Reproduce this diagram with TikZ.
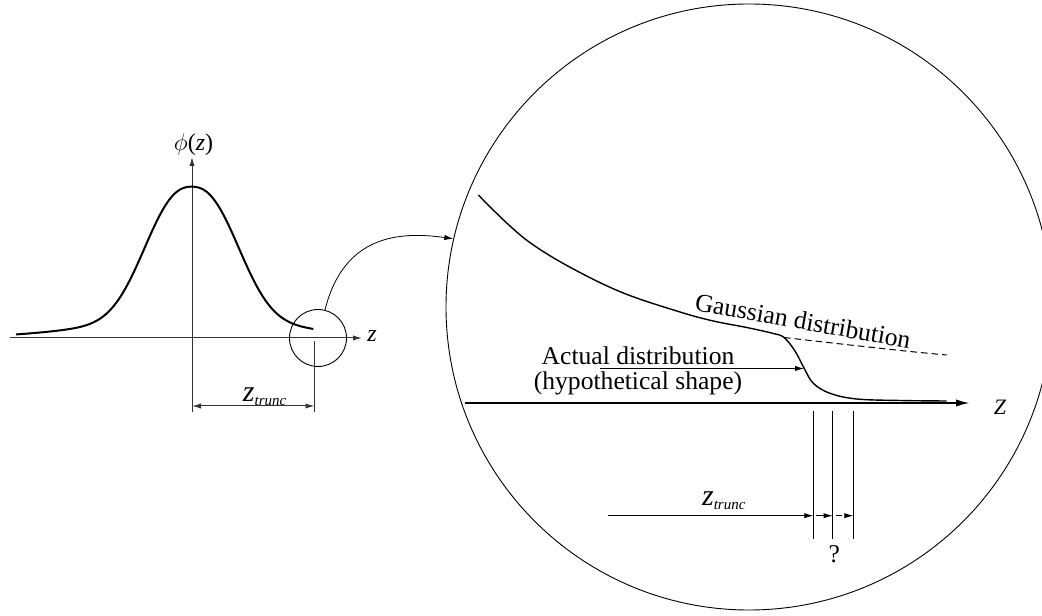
\documentclass[tikz,border=0pt]{standalone}
\usepackage{fontspec}
\setmainfont{Liberation Serif}
\usepackage{tikz}
\usetikzlibrary{arrows.meta, positioning}
\tikzstyle{axis} = [draw=black!80, line width=0.5pt]
\tikzstyle{zoomcircle} = [circle, draw=black, line width=0.45pt, inner sep=0]
\tikzstyle{pointer} = [-{Latex[length=4.5pt, width=2.6pt]}]
\tikzstyle{txt} = [font=\fontsize{12.8}{12.5}\selectfont, inner sep=0]
\newcommand{\ztrunc}{{\fontsize{15}{15}\selectfont\itshape z}\raisebox{-2.1pt}{\fontsize{7.5}{8}\selectfont\itshape trunc}}

\begin{document}
\begin{tikzpicture}[x=0.5pt, y=0.5pt]
	\useasboundingbox (0,0) rectangle (1042,615);
	\clip (0,0) rectangle (1042,615);

	% left plot
	\coordinate (AxisL) at (10,277);
	\coordinate (AxisR) at (362,277);
	\draw[axis, pointer] (AxisL) -- (AxisR);
	\node (zLbl) [inner sep=0, font=\fontsize{12}{14}\selectfont\itshape] at (372,279) {z};

	\coordinate (VAxisB) at (192,203);
	\coordinate (VAxisT) at (192,458);
	\draw[axis, pointer] (VAxisB) -- (VAxisT);
	\node (PhiLbl) [inner sep=0, anchor=base, font=\fontsize{12}{14}\selectfont] at (193.5,464.5) {$\phi$(\textit{z})};

	\draw[line width=1pt] plot[domain=-175.7:121.6, samples=90, smooth] ({191.7+\x}, {277+151.3*(0.87*exp(-((abs(\x)+0.001)/58.5)^2.4)+0.13*exp(-(\x/95)*(\x/95)/2))});

	\node (SmallCirc) [zoomcircle, minimum size=28.5pt] at (318,277) {};
	\coordinate (TruncTop) at (314.5,274);
	\coordinate (TruncBot) at (314.5,203);
	\draw[axis] (TruncTop) -- (TruncBot);
	\coordinate (TruncL) at (192,209);
	\coordinate (TruncR) at (314.5,209);
	\draw[axis, {Latex[length=4.5pt, width=2.6pt]}-{Latex[length=4.5pt, width=2.6pt]}] (TruncL) -- (TruncR);
	\node (TruncLbl) [inner sep=0, anchor=base west] at (242.5,213.3) {\ztrunc};

	% magnified tail
	\node (BigCirc) [zoomcircle, minimum size=303pt] at (749,308) {};
	\draw[pointer] (SmallCirc.76) .. controls +(76:77) and +(172:55) .. (BigCirc.167);

	\coordinate (ZAxisL) at (465,212);
	\coordinate (ZAxisR) at (970,212);
	\draw[line width=1pt, -{Latex[length=7pt, width=3.6pt]}] (ZAxisL) -- (ZAxisR);
	\node (ZLbl) [inner sep=0, font=\fontsize{11}{13}\selectfont\itshape] at (1000,208) {Z};

	\draw[line width=0.7pt] plot[smooth, tension=0.6] coordinates {(478.3,420) (506.7,392) (533.3,370) (573.3,346) (623.3,322) (680,303) (713.3,294) (746.7,287.5) (773.3,281.5) (784,277.5) (795,264) (804,247) (813.3,231.7) (830,221.7) (856.7,216) (900,214.5) (946.7,214)};
	\draw[line width=0.5pt, dash pattern=on 3.3pt off 2pt] plot[smooth] coordinates {(784,277.5) (850,270) (910,263.5) (946.7,260)};
	\node (GaussLbl) [txt, rotate=-10, anchor=base] at (801.5,285.5) {Gaussian distribution};

	\node (ActLbl) [txt, align=center] at (638,244.5) {Actual distribution\\(hypothetical shape)};
	\coordinate (ActStart) at (600,246.5);
	\coordinate (ActTip) at (804,246.5);
	\draw[pointer] (ActStart) -- (ActTip);

	% truncation marks
	\foreach \x/\n in {813.3/A, 832.7/B, 853.3/C} {
		\coordinate (Mark\n Top) at (\x,204.3);
		\coordinate (Mark\n Bot) at (\x,75.7);
		\draw (Mark\n Top) -- (Mark\n Bot);
	}
	\coordinate (LowTruncL) at (608.3,99.3);
	\coordinate (LowTruncR) at (813.3,99.3);
	\draw[pointer] (LowTruncL) -- (LowTruncR);
	\coordinate (GapAL) at (816,99.3);
	\coordinate (GapAR) at (832.7,99.3);
	\draw[pointer] (GapAL) -- (GapAR);
	\coordinate (GapBL) at (836,99.3);
	\coordinate (GapBR) at (853.3,99.3);
	\draw[pointer, dash pattern=on 3pt off 1.5pt] (GapBL) -- (GapBR);
	\node (LowTruncLbl) [inner sep=0, anchor=base west] at (701.7,110) {\ztrunc};
	\node (QLbl) [txt] at (834.3,61) {?};
\end{tikzpicture}
\end{document}
